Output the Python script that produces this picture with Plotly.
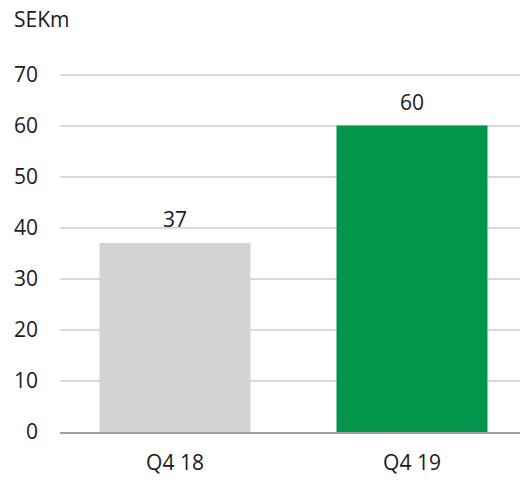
import plotly.graph_objects as go

categories = ["Q4 18", "Q4 19"]
values = [37, 60]
colors = ["#d3d3d3", "#00954b"]
y_ticks = [0, 10, 20, 30, 40, 50, 60, 70]

FONT = "Open Sans"
fig = go.Figure(go.Bar(
    x=[0, 1], y=values, marker=dict(color=colors, line=dict(width=0)),
    width=0.637, cliponaxis=False,
))
for i, v in enumerate(values):
    fig.add_annotation(x=i, y=v, text=str(v), showarrow=False, yanchor="middle",
                       yshift=24, font=dict(size=21, color="#1a1a1a"))
fig.update_layout(
    width=524, height=480, margin=dict(l=60, r=4, t=73, b=40),
    plot_bgcolor="white", paper_bgcolor="white",
    font=dict(family=FONT, size=21, color="#1a1a1a"),
    showlegend=False,
    xaxis=dict(range=[-0.4852, 1.4557], tickvals=[0, 1], ticktext=categories,
               showgrid=False, showline=True, linecolor="#a0a0a0", linewidth=2,
               ticks="", ticklabelstandoff=11, zeroline=False),
    yaxis=dict(range=[0, 70.3], tickvals=y_ticks, showgrid=True, gridcolor="#d9d9d9",
               gridwidth=1.5, zeroline=False, showline=False, ticks="",
               ticklabelstandoff=21),
)
fig.add_annotation(text="SEKm", x=0, y=1, xref="paper", yref="paper",
                   xshift=-48, yshift=54, xanchor="left", yanchor="middle",
                   showarrow=False, font=dict(size=21))
fig.write_html("out.html")
